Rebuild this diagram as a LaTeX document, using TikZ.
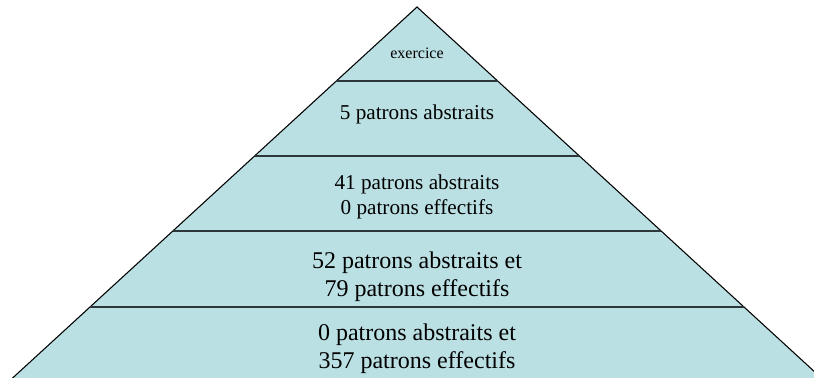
\documentclass[tikz,border=0pt]{standalone}
\usepackage{fontspec}
\setmainfont{Liberation Serif}
\definecolor{tierfill}{RGB}{187,224,227}
\definecolor{tierrule}{RGB}{45,55,58}
\tikzset{
  tierline/.style = {color=tierrule, line width=1.8pt},
  tiertext/.style = {align=center, inner sep=0pt},
}

\begin{document}
\begin{tikzpicture}[x=0.75pt, y=-0.75pt]
    \useasboundingbox (0,0) rectangle (814,378);
    \begin{scope}
    \clip (0,0) rectangle (814,378);
    \filldraw[fill=tierfill, draw=black, line width=0.8pt]
      (417,7) -- ({417-1.09*413},420) -- ({417+1.09*413},420) -- cycle;
    \foreach \y in {81,156,231,307}
      \draw[tierline] ({417-1.09*(\y-7)},\y) -- ({417+1.09*(\y-7)},\y);
    \end{scope}

    \node[tiertext, font=\fontsize{12}{14}\selectfont] (top) at (417,53) {exercice};
    \node[tiertext, font=\fontsize{15.9}{19}\selectfont] (second) at (417,114) {5 patrons abstraits};
    \node[tiertext, font=\fontsize{15.9}{19}\selectfont] (third) at (417,197)
      {41 patrons abstraits\\0 patrons effectifs};
    \node[tiertext, font=\fontsize{18}{21}\selectfont] (fourth) at (417,277)
      {52 patrons abstraits et\\79 patrons effectifs};
    \node[tiertext, font=\fontsize{18}{21}\selectfont] (base) at (417,349)
      {0 patrons abstraits et\\357 patrons effectifs};
\end{tikzpicture}
\end{document}
